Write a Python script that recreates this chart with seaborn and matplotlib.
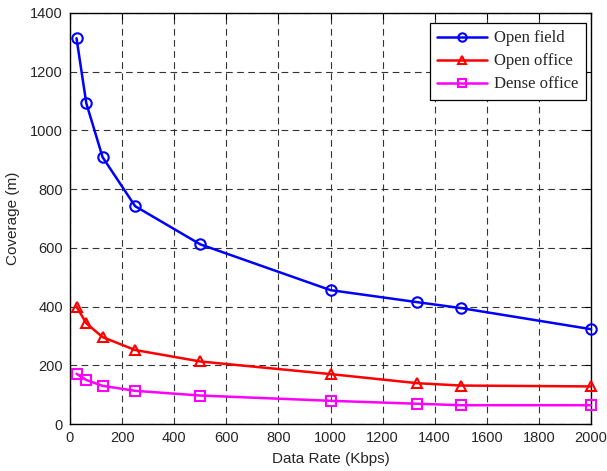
import pandas as pd
import matplotlib
matplotlib.use('Agg')
import matplotlib.pyplot as plt
import seaborn as sns

# data
data_rate = [25, 62.5, 125, 250, 500, 1000, 1333, 1500, 2000]
open_field = [1314, 1093, 909, 742, 612, 456, 415, 395, 323]
open_office = [400, 343, 296, 252, 213, 170, 139, 131, 128]
dense_office = [171, 150, 130, 113, 97, 79, 69, 64, 64]

series_names = ['Open field', 'Open office', 'Dense office']
series_colors = ['#0000ff', '#ff0000', '#ff00ff']
series_markers = ['o', '^', 's']
x_ticks = list(range(0, 2001, 200))
y_ticks = list(range(0, 1401, 200))

sns.set_style('white')
plt.rcParams['font.family'] = ['Liberation Sans', 'DejaVu Sans']

df = pd.DataFrame({
    'rate': data_rate * 3,
    'cov': open_field + open_office + dense_office,
    'env': sum([[n] * len(data_rate) for n in series_names], []),
})

fig = plt.figure(figsize=(6.07, 4.71), dpi=100)
ax = fig.add_axes([70 / 607, 1 - 424 / 471, 521 / 607, 411 / 471])

for name, color, marker in zip(series_names, series_colors, series_markers):
    sub = df[df['env'] == name]
    sns.lineplot(data=sub, x='rate', y='cov', ax=ax, color=color,
                 marker=marker, markersize=7.5, markerfacecolor='none',
                 markeredgecolor=color, markeredgewidth=1.5,
                 linewidth=1.8, label=name, clip_on=False, zorder=3)

ax.set_xlim(0, 2000)
ax.set_ylim(0, 1400)
ax.set_xticks(x_ticks)
ax.set_yticks(y_ticks)
ax.tick_params(direction='in', length=4, top=True, right=True,
               labelsize=10.5, color='black', width=0.8, pad=5)
ax.grid(True, color='#333333', linestyle=(0, (6, 4)), linewidth=0.8)
for sp in ax.spines.values():
    sp.set_color('black')
    sp.set_linewidth(1.0)

ax.set_xlabel('Data Rate (Kbps)', fontsize=11, labelpad=5)
ax.set_ylabel('Coverage (m)', fontsize=11, labelpad=7)

leg = ax.legend(loc='upper right', bbox_to_anchor=(0.990, 0.976),
                borderaxespad=0,
                prop={'family': 'Liberation Serif', 'size': 12},
                frameon=True, fancybox=False, framealpha=1,
                edgecolor='black', handlelength=3.0, borderpad=0.45,
                labelspacing=0.42, handletextpad=0.4, markerscale=0.8)
leg.get_frame().set_linewidth(0.9)

fig.savefig('out.png', dpi=100)
